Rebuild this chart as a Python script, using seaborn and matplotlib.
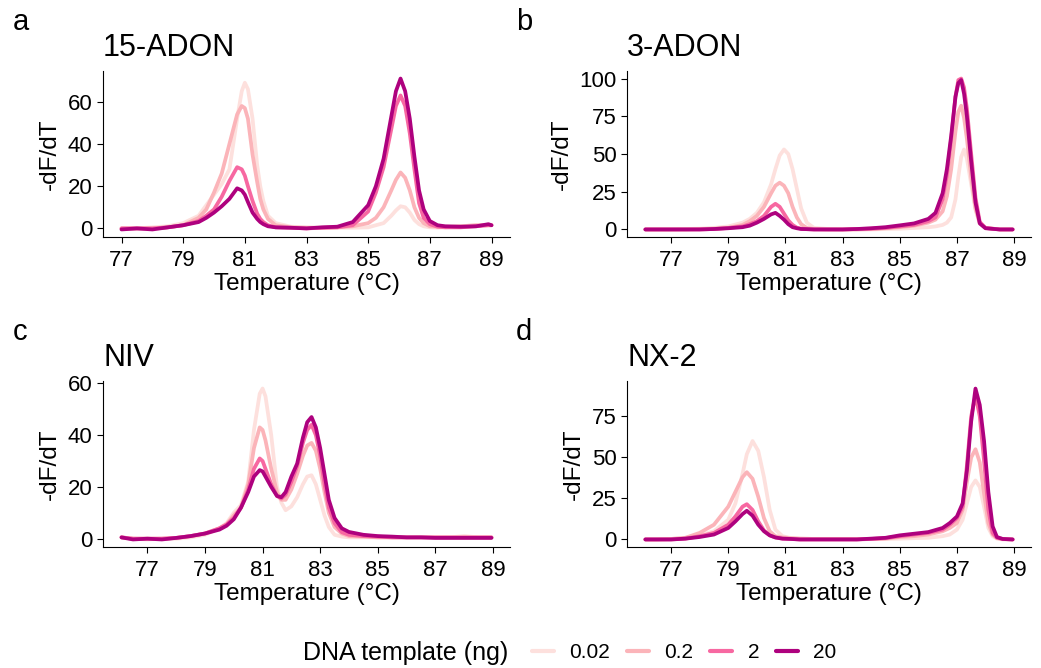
import matplotlib
matplotlib.use("Agg")
import matplotlib.pyplot as plt
import seaborn as sns
import pandas as pd
from matplotlib.lines import Line2D

# DNA template amounts (ng) and their line colours
DOSES = ["0.02", "0.2", "2", "20"]
COLORS = ["#fde0dd", "#fbb4b9", "#f768a1", "#ae017e"]

# a: 15-ADON melt curves
A_TEMP = [77.0, 77.5, 78.0, 78.5, 79.0, 79.5, 79.75, 80.0, 80.25, 80.5, 80.75, 80.9, 81.0, 81.1, 81.25,
          81.4, 81.5, 81.6, 81.75, 82.0, 82.5, 83.0, 83.5, 84.0, 84.5, 85.0, 85.25, 85.5, 85.75, 85.9,
          86.05, 86.2, 86.35, 86.5, 86.65, 86.8, 87.0, 87.25, 87.5, 88.0, 88.5, 88.9, 89.0]
A_002 = [0, 0, 0.5, 1, 2.5, 6, 11, 16, 21, 28, 52, 65, 69, 66, 52, 30, 20, 13, 6, 2.5, 0.8, 0.5,
         0.3, 0.3, 0.3, 0.5, 1.5, 2.5, 6, 8.5, 10.5, 10, 7.5, 4, 2, 1, 0.5, 0.3, 0.5, 1, 1.5, 1.5, 1.5]
A_02 = [0, 0, 0, 0.5, 1.5, 5, 9, 17, 26, 40, 54, 58, 57, 52, 35, 22, 14, 9, 4.5, 1.5, 0.5, 0.3,
        0.3, 0.5, 1, 2.5, 5, 10, 18, 23, 26.5, 24, 18, 10, 5, 2.5, 1, 0.8, 0.8, 1, 1.5, 1.5, 1.5]
A_2 = [0, 0, 0, 0.5, 1.5, 3.5, 6, 9, 15, 22.5, 29, 28, 25, 20, 13, 7, 4.5, 3, 1.5, 0.5, 0.3, 0,
       0.3, 0.5, 1.5, 8, 17, 29, 47, 58, 63, 58, 45, 28, 12, 5, 2, 0.8, 0.5, 0.5, 1, 1.5, 1.5]
A_20 = [-0.5, 0, -0.5, 0.5, 1.5, 3, 5, 7.5, 10.5, 14, 19, 18, 16, 12.5, 7.5, 4.5, 3, 2, 1, 0.5, 0.3,
        0, 0.5, 0.8, 3, 11, 20, 33, 53, 65, 71, 65, 52, 34, 18, 9, 3.5, 1.5, 1, 0.8, 1, 2, 1.5]

# b: 3-ADON
B_TEMP = [76.1, 76.5, 77.0, 77.5, 78.0, 78.5, 79.0, 79.5, 79.75, 80.0, 80.25, 80.5, 80.65, 80.8, 80.95,
          81.1, 81.25, 81.4, 81.55, 81.75, 82.0, 82.5, 83.0, 83.5, 84.0, 84.5, 85.0, 85.5, 86.0, 86.25,
          86.5, 86.65, 86.8, 86.95, 87.05, 87.15, 87.25, 87.35, 87.5, 87.65, 87.8, 88.0, 88.5, 88.95]
B_002 = [0, 0, 0, 0.3, 0.5, 1, 2, 4.5, 7, 11, 18, 30, 40, 49, 53, 50, 40, 27, 14, 4.5, 1, 0.3,
         0, 0, 0, 0.3, 0.5, 1, 1.5, 2, 3, 4.5, 8, 20, 35, 48, 53, 47, 30, 13, 4, 1, 0, 0]
B_02 = [0, 0, 0, 0, 0.3, 0.5, 1, 3, 5.5, 9, 15, 24, 29, 31, 29, 24, 15, 8, 3.5, 1, 0.3, 0,
        0, 0, 0.3, 0.8, 1.5, 2.5, 4.5, 6.5, 12, 22, 40, 65, 78, 82, 74, 60, 35, 14, 4, 1, 0, 0]
B_2 = [0, 0, 0, 0, 0, 0.3, 1, 2, 3.5, 5.5, 9, 15, 17, 15, 10.5, 6, 3, 1.2, 0.5, 0.2, 0, 0,
       0, 0.3, 0.5, 1, 2, 3, 5.5, 8, 20, 36, 60, 88, 99, 100, 94, 80, 50, 21, 5, 1, 0, 0]
B_20 = [0, 0, 0, 0, 0, 0.3, 0.8, 1.5, 2.5, 4.5, 7, 10, 11, 9, 6.5, 3.5, 1.5, 0.8, 0.3, 0.2, 0, 0,
        0, 0.3, 0.8, 1.5, 2.7, 4, 7, 11, 24, 40, 62, 88, 97, 99, 90, 75, 45, 18, 4, 0.8, 0, 0]

# c: NIV
C_TEMP = [76.1, 76.5, 77.0, 77.5, 78.0, 78.5, 79.0, 79.5, 79.75, 80.0, 80.25, 80.5, 80.7, 80.9, 81.0,
          81.1, 81.3, 81.5, 81.65, 81.8, 82.0, 82.2, 82.4, 82.55, 82.7, 82.85, 83.0, 83.15, 83.3, 83.5,
          83.75, 84.0, 84.5, 85.0, 85.5, 86.0, 86.5, 87.0, 87.5, 88.0, 88.5, 88.95]
C_002 = [0.5, 0, -0.3, 0, 0, 0.5, 1.5, 4, 6, 10, 13, 22, 42, 56, 58, 55, 40, 20, 14, 11, 12.5,
         16, 21, 24, 24.5, 21, 15, 9, 4.5, 1.5, 0.8, 0.5, 0.5, 0.5, 0.5, 0.5, 0.5, 0.5, 0.5, 1, 0.5, 0.5]
C_02 = [0.5, 0, 0, 0, 0.3, 1, 2, 4, 5.5, 9, 12, 21, 35, 43, 42, 38, 27, 18, 15, 15, 19,
        25, 32, 36, 37, 34, 27, 18, 10, 4.5, 2, 1, 0.8, 0.5, 0.5, 0.5, 0.5, 0.5, 0.5, 0.5, 0.5, 0.5]
C_2 = [0.5, 0, 0, 0, 0.3, 1, 2, 4, 5.5, 8, 12, 19, 27, 31, 30, 27, 21, 16.5, 15.5, 17, 22,
       28, 37, 42, 44, 40, 32, 21, 12, 6, 2.5, 1.5, 1, 0.8, 0.5, 0.5, 0.5, 0.5, 0.5, 0.5, 0.5, 0.5]
C_20 = [0.5, -0.3, 0, -0.3, 0.3, 1, 2, 3.5, 5, 7.5, 12, 18, 24, 26.5, 26, 24, 20, 16.5, 16, 18, 24,
        29, 39, 45, 47, 43, 35, 25, 15, 8, 4, 2.6, 1.5, 1, 0.8, 0.5, 0.5, 0.3, 0.3, 0.3, 0.3, 0.3]

# d: NX-2
D_TEMP = [76.1, 76.5, 77.0, 77.5, 78.0, 78.5, 79.0, 79.25, 79.5, 79.65, 79.85, 80.05, 80.25, 80.45,
          80.65, 80.9, 81.2, 81.5, 82.0, 82.5, 83.0, 83.5, 84.0, 84.5, 85.0, 85.5, 86.0, 86.5, 86.75,
          87.0, 87.2, 87.35, 87.5, 87.65, 87.8, 87.95, 88.1, 88.25, 88.4, 88.6, 88.95]
D_002 = [0, 0, 0.3, 1, 2.5, 5, 12, 22, 40, 52, 60, 54, 38, 18, 6, 2, 0.8, 0.5, 0.3, 0.3, 0.3,
         0.3, 0.3, 0.3, 0.5, 0.8, 1, 2, 3, 6, 12, 22, 32, 36, 32, 20, 7, 2, 0.5, 0, 0]
D_02 = [0, 0, 0.3, 1, 4, 9, 20, 29, 38, 41, 37, 26, 13, 5, 2, 1.2, 0.8, 0.5, 0.3, 0.3, 0.3,
        0.3, 0.3, 0.5, 1.5, 2, 3, 5, 7, 10, 18, 35, 50, 55, 47, 28, 10, 3, 0.8, 0.3, 0]
D_2 = [0, 0, 0, 0.5, 2, 4, 9, 14, 20, 21.5, 18, 11, 5.5, 2.5, 1.2, 0.5, 0.3, 0, 0, 0, 0,
       0, 0.3, 0.8, 2, 3, 4, 6, 9, 13, 20, 45, 75, 88, 75, 48, 18, 4, 1, 0.3, 0]
D_20 = [0, 0, 0, 0.5, 1.5, 3, 7, 11, 15.5, 17.5, 14.5, 9, 5, 2.5, 1.2, 0.5, 0.3, 0, 0, 0, 0,
        0, 0.5, 1, 2.5, 3.5, 4.5, 7, 10, 14, 22, 42, 72, 92, 82, 60, 29, 8, 1.5, 0.3, 0]


def to_long(temps, series):
    frames = []
    for dose, vals in zip(DOSES, series):
        frames.append(pd.DataFrame({"temp": temps, "dfdt": vals, "dose": dose}))
    return pd.concat(frames, ignore_index=True)


panels = [
    ("a", "15-ADON", to_long(A_TEMP, [A_002, A_02, A_2, A_20]), [0, 20, 40, 60]),
    ("b", "3-ADON", to_long(B_TEMP, [B_002, B_02, B_2, B_20]), [0, 25, 50, 75, 100]),
    ("c", "NIV", to_long(C_TEMP, [C_002, C_02, C_2, C_20]), [0, 20, 40, 60]),
    ("d", "NX-2", to_long(D_TEMP, [D_002, D_02, D_2, D_20]), [0, 25, 50, 75]),
]

sns.set_theme(style="ticks")
plt.rcParams["font.family"] = ["Liberation Sans", "DejaVu Sans"]
plt.rcParams["text.color"] = "black"
plt.rcParams["axes.labelcolor"] = "black"
plt.rcParams["axes.linewidth"] = 0.8
plt.rcParams["xtick.major.width"] = 0.8
plt.rcParams["ytick.major.width"] = 0.8
plt.rcParams["xtick.major.size"] = 4.5
plt.rcParams["ytick.major.size"] = 4.5
plt.rcParams["lines.solid_joinstyle"] = "round"
plt.rcParams["lines.solid_capstyle"] = "round"

W, H = 1041, 668
fig = plt.figure(figsize=(W / 100, H / 100), dpi=100)

# axes boxes in pixels: left, top, right, bottom
boxes = [(103, 71, 510, 237), (627, 71, 1031, 237),
         (103, 381, 510, 547), (627, 381, 1031, 547)]
letter_pos = [(13, 30), (516, 30), (13, 340), (516, 340)]

palette = dict(zip(DOSES, COLORS))

for (letter, title, df, yticks), (l, t, r, b), (lx, ly) in zip(panels, boxes, letter_pos):
    ax = fig.add_axes([l / W, 1 - b / H, (r - l) / W, (b - t) / H])
    sns.lineplot(data=df, x="temp", y="dfdt", hue="dose", hue_order=DOSES,
                 palette=palette, estimator=None, linewidth=2.7, legend=False, ax=ax)
    lo, hi = df["temp"].min(), df["temp"].max()
    pad = (hi - lo) * 0.05
    ax.set_xlim(lo - pad, hi + pad)
    ymin, ymax = df["dfdt"].min(), df["dfdt"].max()
    ypad = (ymax - ymin) * 0.05
    ax.set_ylim(ymin - ypad, ymax + ypad)
    ax.set_xticks([77, 79, 81, 83, 85, 87, 89])
    ax.set_yticks(yticks)
    ax.tick_params(labelsize=16, colors="black", pad=3)
    ax.tick_params(axis="x", pad=5)
    ax.set_xlabel("Temperature (°C)", fontsize=17.5, labelpad=1)
    ax.set_ylabel("-dF/dT", fontsize=17.5, labelpad=5)
    ax.set_title(title, loc="left", fontsize=22, pad=11, color="black")
    for side in ["top", "right"]:
        ax.spines[side].set_visible(False)
    for side in ["left", "bottom"]:
        ax.spines[side].set_color("black")
    fig.text(lx / W, 1 - ly / H, letter, fontsize=21, va="baseline", ha="left")

# legend along the bottom
handles = [Line2D([], [], color=c, linewidth=3) for c in COLORS]
fig.text(303 / W, 1 - 653 / H, "DNA template (ng)", fontsize=18, va="center", ha="left")
fig.legend(handles, DOSES, loc="center left", bbox_to_anchor=(532 / W, 1 - 653 / H),
           ncol=4, frameon=False, fontsize=15, handlelength=1.05, handletextpad=0.75,
           columnspacing=0.8, borderaxespad=0, borderpad=0)

fig.savefig("out.png", dpi=100)
